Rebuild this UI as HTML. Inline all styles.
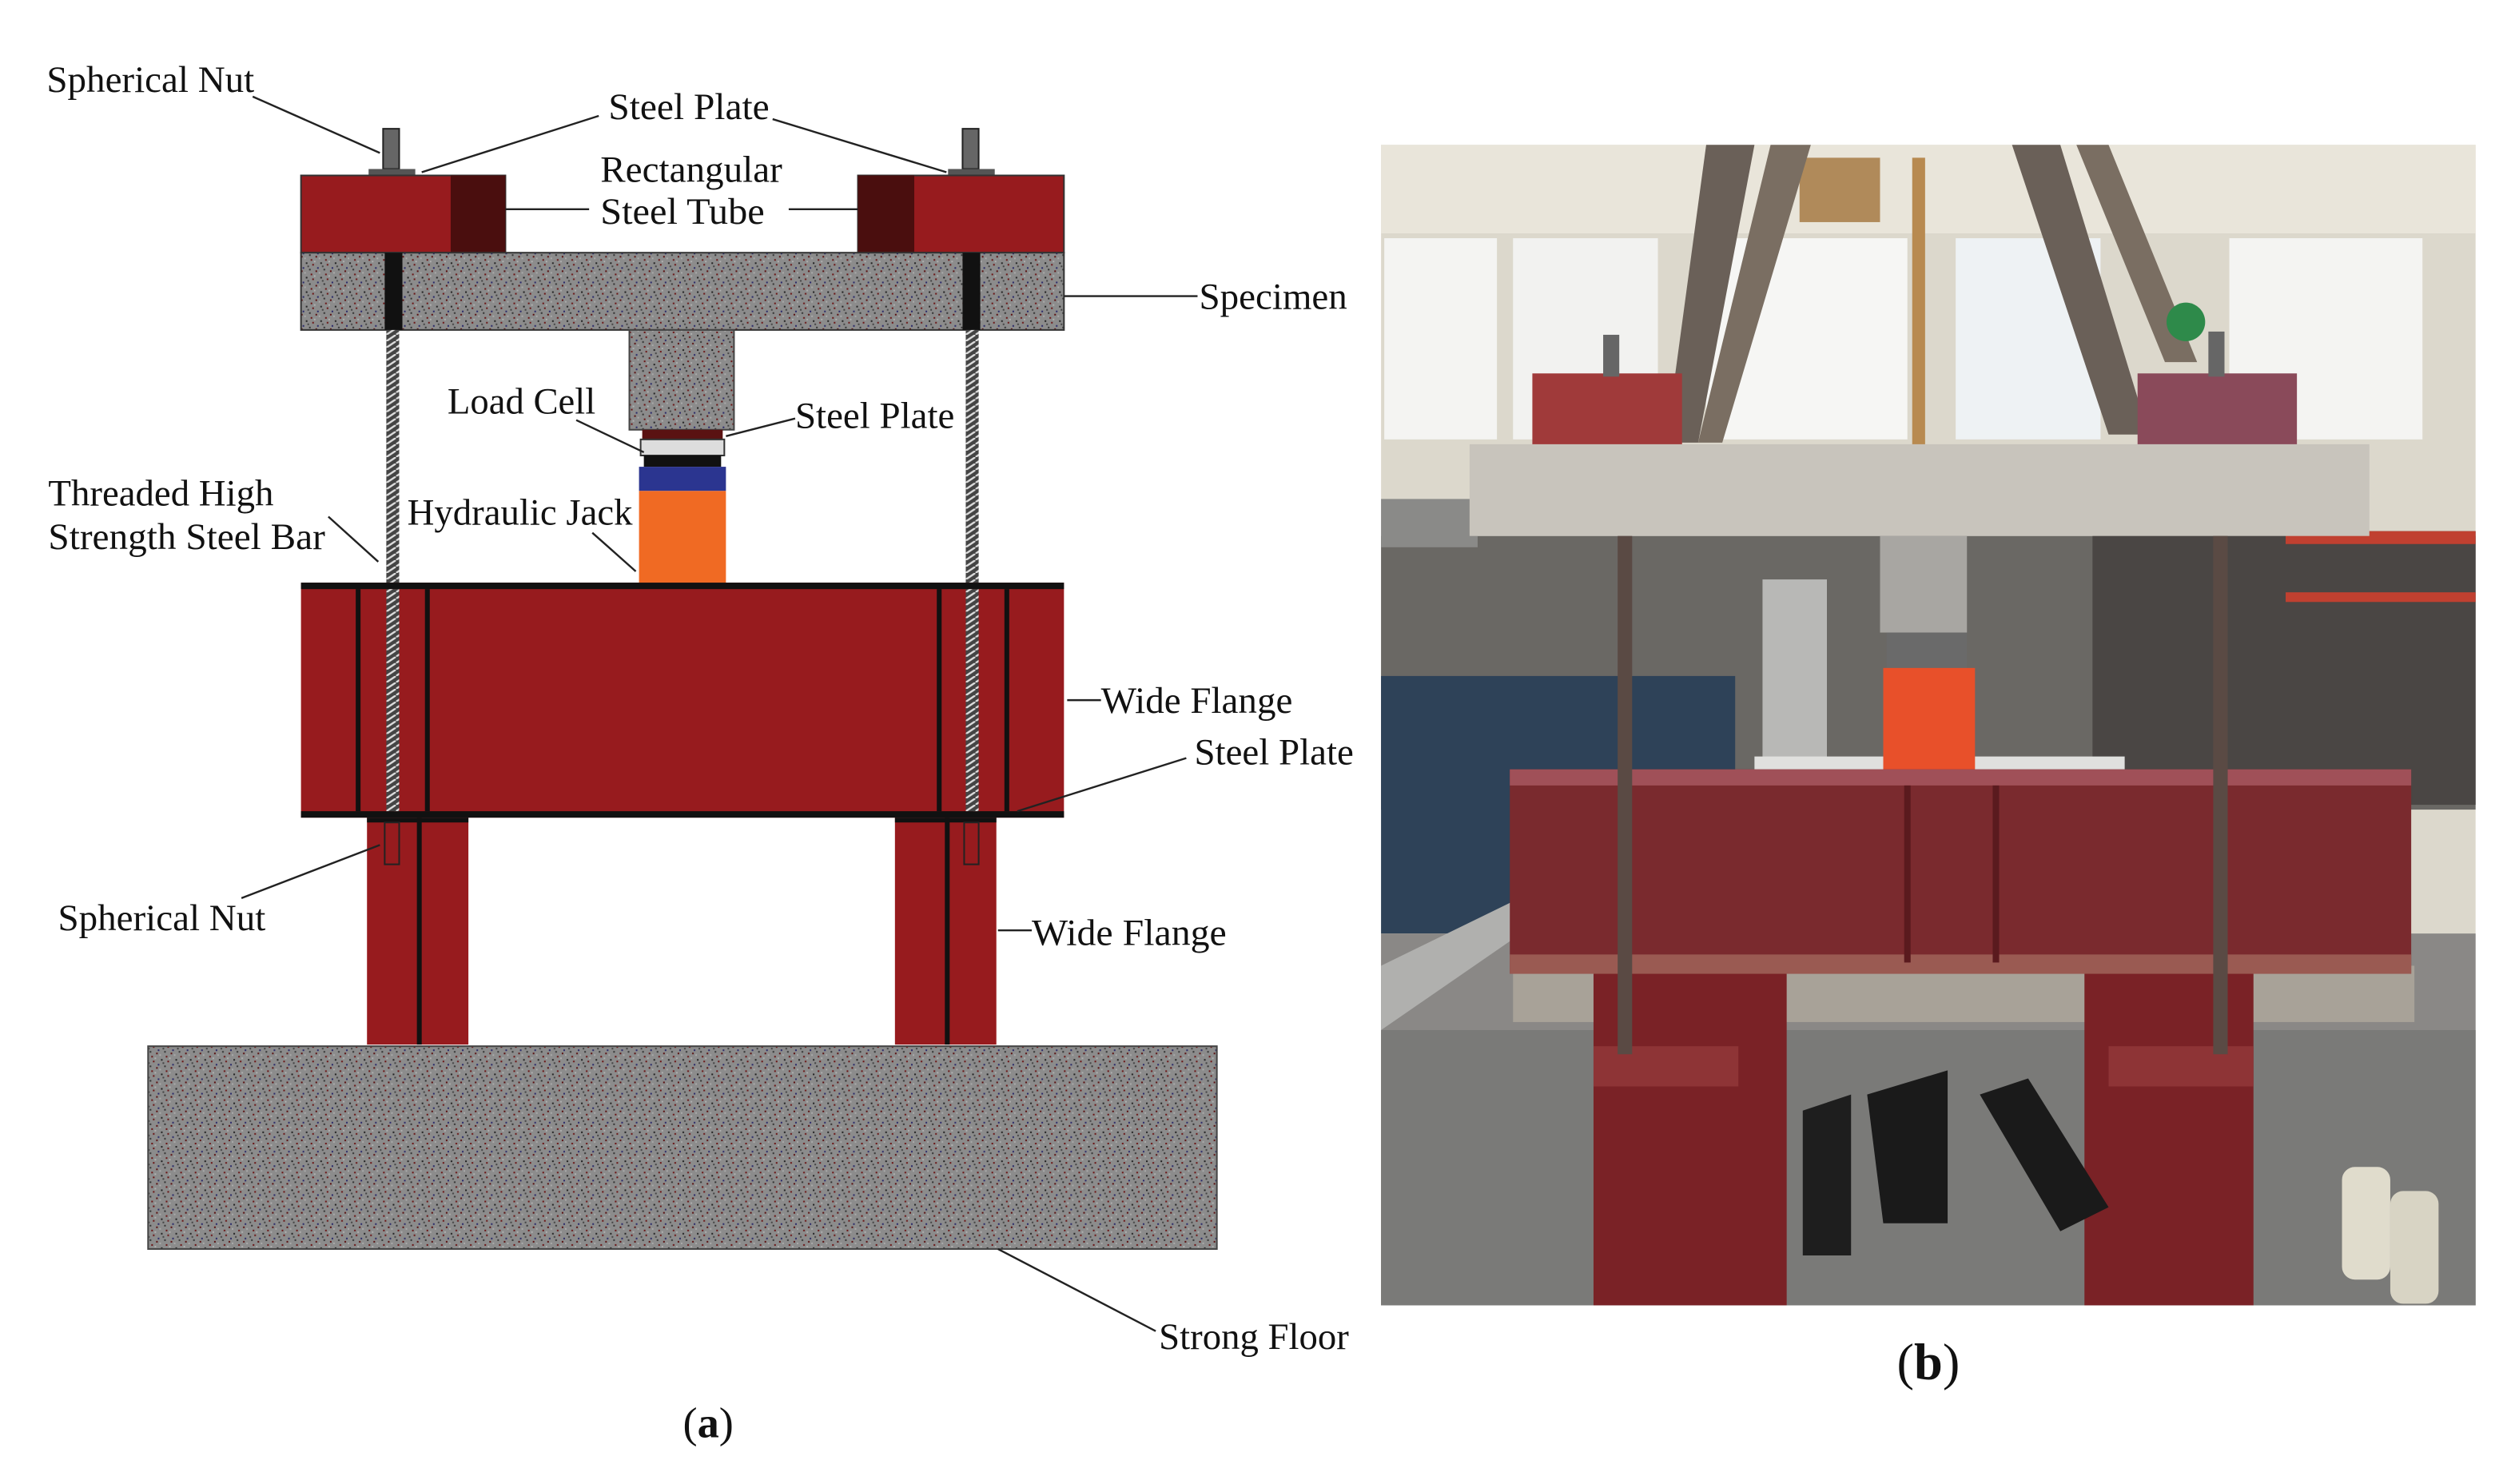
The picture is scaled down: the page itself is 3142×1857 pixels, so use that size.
<!DOCTYPE html>
<html><head><meta charset="utf-8"><style>
html,body{margin:0;padding:0;background:#fff;width:3142px;height:1857px;overflow:hidden}
svg{display:block}
text{font-family:"Liberation Serif",serif;font-size:23px;fill:#111}
</style></head><body>
<svg width="3142" height="1857" viewBox="0 0 1560 922" preserveAspectRatio="none" xmlns="http://www.w3.org/2000/svg">
<defs>
<pattern id="conc" width="9" height="9" patternUnits="userSpaceOnUse">
<rect width="9" height="9" fill="#8c8c8c"/>
<rect x="1" y="1" width="1" height="1" fill="#222"/><rect x="5" y="2" width="1" height="1" fill="#6a1414"/>
<rect x="3" y="5" width="1" height="1" fill="#333"/><rect x="7" y="6" width="1" height="1" fill="#5a1010"/>
<rect x="0" y="7" width="1" height="1" fill="#aaa"/><rect x="6" y="0" width="1" height="1" fill="#b0b0b0"/>
<rect x="2" y="3" width="1" height="1" fill="#444"/><rect x="8" y="4" width="1" height="1" fill="#2a2a6a"/>
<rect x="4" y="8" width="1" height="1" fill="#6a1414"/>
</pattern>
<pattern id="thr" width="6" height="4" patternUnits="userSpaceOnUse">
<rect width="6" height="4" fill="#444"/><path d="M0 4 L6 0" stroke="#ddd" stroke-width="1.2"/>
</pattern>
</defs>

<rect x="238" y="80" width="10" height="25" fill="#666" stroke="#222" stroke-width="1"/>
<rect x="229" y="105" width="29" height="4" fill="#555"/>
<rect x="598" y="80" width="10" height="25" fill="#666" stroke="#222" stroke-width="1"/>
<rect x="589" y="105" width="29" height="4" fill="#555"/>
<rect x="187" y="109" width="127" height="48" fill="#971b1e" stroke="#333"/>
<rect x="280" y="109" width="34" height="48" fill="#4a0e0e"/>
<rect x="533" y="109" width="128" height="48" fill="#971b1e" stroke="#333"/>
<rect x="533" y="109" width="35" height="48" fill="#4a0e0e"/>
<rect x="187" y="157" width="474" height="48" fill="url(#conc)" stroke="#333"/>
<rect x="239" y="157" width="11" height="48" fill="#111"/>
<rect x="598" y="157" width="11" height="48" fill="#111"/>
<rect x="391" y="205" width="65" height="62" fill="url(#conc)" stroke="#444"/>
<rect x="399" y="267" width="50" height="6" fill="#5a1212"/>
<rect x="398" y="273" width="52" height="10" fill="#ddd" stroke="#333"/>
<rect x="400" y="283" width="48" height="7" fill="#111"/>
<rect x="397" y="290" width="54" height="15" fill="#2b3590"/>
<rect x="397" y="305" width="54" height="57" fill="#f06a23"/>
<rect x="240" y="205" width="8" height="300" fill="url(#thr)"/>
<rect x="600" y="205" width="8" height="300" fill="url(#thr)"/>
<rect x="187" y="362" width="474" height="146" fill="#971b1e"/>
<rect x="187" y="362" width="474" height="4" fill="#111"/>
<rect x="187" y="504" width="474" height="4" fill="#111"/>
<rect x="221" y="366" width="3" height="138" fill="#111"/>
<rect x="264" y="366" width="3" height="138" fill="#111"/>
<rect x="582" y="366" width="3" height="138" fill="#111"/>
<rect x="624" y="366" width="3" height="138" fill="#111"/>
<rect x="240" y="366" width="8" height="138" fill="url(#thr)"/>
<rect x="600" y="366" width="8" height="138" fill="url(#thr)"/>
<rect x="228" y="508" width="63" height="141" fill="#971b1e"/>
<rect x="259" y="508" width="3" height="141" fill="#111"/>
<rect x="228" y="508" width="63" height="3" fill="#111"/>
<rect x="556" y="508" width="63" height="141" fill="#971b1e"/>
<rect x="587" y="508" width="3" height="141" fill="#111"/>
<rect x="556" y="508" width="63" height="3" fill="#111"/>
<rect x="239" y="511" width="9" height="26" fill="none" stroke="#222"/>
<rect x="599" y="511" width="9" height="26" fill="none" stroke="#222"/>
<rect x="92" y="650" width="664" height="126" fill="url(#conc)" stroke="#444"/>

<g stroke="#222" stroke-width="1.2" fill="none">
<path d="M157 60 L236 95"/><path d="M372 72 L262 107"/><path d="M480 74 L588 107"/>
<path d="M314 130 L366 130"/><path d="M490 130 L533 130"/><path d="M661 184 L744 184"/>
<path d="M358 261 L400 281"/><path d="M451 271 L494 260"/><path d="M204 321 L235 349"/>
<path d="M368 331 L395 355"/><path d="M663 435 L684 435"/><path d="M737 471 L632 504"/>
<path d="M150 558 L236 525"/><path d="M620 578 L641 578"/><path d="M620 776 L718 827"/>
</g>
<g lengthAdjust="spacingAndGlyphs">
<text x="29" y="57" textLength="129" lengthAdjust="spacingAndGlyphs">Spherical Nut</text>
<text x="378" y="74" textLength="100" lengthAdjust="spacingAndGlyphs">Steel Plate</text>
<text x="373" y="113" textLength="113" lengthAdjust="spacingAndGlyphs">Rectangular</text>
<text x="373" y="139" textLength="102" lengthAdjust="spacingAndGlyphs">Steel Tube</text>
<text x="745" y="192" textLength="92" lengthAdjust="spacingAndGlyphs">Specimen</text>
<text x="278" y="257" textLength="92" lengthAdjust="spacingAndGlyphs">Load Cell</text>
<text x="494" y="266" textLength="99" lengthAdjust="spacingAndGlyphs">Steel Plate</text>
<text x="30" y="314" textLength="140" lengthAdjust="spacingAndGlyphs">Threaded High</text>
<text x="30" y="341" textLength="172" lengthAdjust="spacingAndGlyphs">Strength Steel Bar</text>
<text x="253" y="326" textLength="140" lengthAdjust="spacingAndGlyphs">Hydraulic Jack</text>
<text x="684" y="443" textLength="119" lengthAdjust="spacingAndGlyphs">Wide Flange</text>
<text x="742" y="475" textLength="99" lengthAdjust="spacingAndGlyphs">Steel Plate</text>
<text x="36" y="578" textLength="129" lengthAdjust="spacingAndGlyphs">Spherical Nut</text>
<text x="641" y="587" textLength="121" lengthAdjust="spacingAndGlyphs">Wide Flange</text>
<text x="720" y="838" textLength="118" lengthAdjust="spacingAndGlyphs">Strong Floor</text>
</g>
<text x="440" y="893" text-anchor="middle" style="font-size:27px">(<tspan font-weight="bold">a</tspan>)</text>
<text x="1198" y="857" text-anchor="middle" style="font-size:32px">(<tspan font-weight="bold">b</tspan>)</text>

<g>
<rect x="858" y="90" width="680" height="721" fill="#dcd8cc"/>
<rect x="858" y="90" width="680" height="55" fill="#e9e5da"/>
<rect x="860" y="148" width="70" height="125" fill="#f4f4f2"/>
<rect x="940" y="148" width="90" height="125" fill="#f2f2f0"/>
<rect x="1060" y="148" width="125" height="125" fill="#f6f6f4"/>
<rect x="1215" y="148" width="90" height="125" fill="#eef2f4"/>
<rect x="1385" y="148" width="120" height="125" fill="#f4f4f2"/>
<rect x="1118" y="98" width="50" height="40" fill="#b08a5a"/>
<rect x="1188" y="98" width="8" height="180" fill="#b88a50"/>
<path d="M1060 90 L1090 90 L1055 275 L1035 275Z" fill="#6a6058"/>
<path d="M1100 90 L1125 90 L1070 275 L1055 275Z" fill="#7a6e62"/>
<path d="M1250 90 L1280 90 L1335 270 L1310 270Z" fill="#6a6058"/>
<path d="M1290 90 L1310 90 L1365 225 L1345 225Z" fill="#7a6e62"/>
<circle cx="1358" cy="200" r="12" fill="#2e8a4a"/>
<rect x="858" y="333" width="680" height="170" fill="#6a6864"/>
<rect x="858" y="310" width="60" height="30" fill="#8a8a88"/>
<rect x="858" y="420" width="220" height="160" fill="#2e4258"/>
<rect x="1300" y="330" width="238" height="170" fill="#4a4644"/>
<rect x="1420" y="330" width="118" height="8" fill="#c04030"/>
<rect x="1420" y="368" width="118" height="6" fill="#c04030"/>
<rect x="1095" y="360" width="40" height="120" fill="#b8b8b6"/>
<rect x="1090" y="470" width="230" height="20" fill="#e0e0de"/>
<rect x="858" y="580" width="680" height="231" fill="#8a8886"/>
<rect x="858" y="640" width="680" height="171" fill="#7a7a78"/>
<path d="M858 600 L940 560 L945 580 L858 640Z" fill="#b0b0ae"/>
<rect x="940" y="600" width="560" height="35" fill="#a8a298"/>
<rect x="913" y="276" width="559" height="57" fill="#c8c4bc"/>
<rect x="952" y="232" width="93" height="44" fill="#a03a3a"/>
<rect x="1328" y="232" width="99" height="44" fill="#8a4a5a"/>
<rect x="996" y="208" width="10" height="26" fill="#666"/>
<rect x="1372" y="206" width="10" height="28" fill="#666"/>
<rect x="1168" y="333" width="54" height="60" fill="#a8a6a2"/>
<rect x="1172" y="393" width="50" height="22" fill="#6a6a6a"/>
<rect x="1170" y="415" width="57" height="69" fill="#e8502a"/>
<rect x="938" y="478" width="560" height="127" fill="#7a2a2e"/>
<rect x="938" y="478" width="560" height="10" fill="#a05058"/>
<rect x="938" y="593" width="560" height="12" fill="#9a5a52"/>
<rect x="1183" y="488" width="4" height="110" fill="#5a1a1e"/>
<rect x="1238" y="488" width="4" height="110" fill="#5a1a1e"/>
<rect x="990" y="605" width="120" height="206" fill="#7a2226"/>
<rect x="990" y="650" width="90" height="25" fill="#8e3436"/>
<rect x="1295" y="605" width="105" height="206" fill="#7a2226"/>
<rect x="1310" y="650" width="90" height="25" fill="#8e3436"/>
<rect x="1005" y="333" width="9" height="322" fill="#5a4a44"/>
<rect x="1375" y="333" width="9" height="322" fill="#5a4a44"/>
<path d="M1120 690 L1150 680 L1150 780 L1120 780Z" fill="#1e1e1e"/>
<path d="M1160 680 L1210 665 L1210 760 L1170 760Z" fill="#1a1a1a"/>
<path d="M1230 680 L1260 670 L1310 750 L1280 765Z" fill="#1a1a1a"/>
<rect x="1455" y="725" width="30" height="70" rx="8" fill="#e0dccc"/>
<rect x="1485" y="740" width="30" height="70" rx="8" fill="#d8d4c4"/>
</g>
</svg>
</body></html>
